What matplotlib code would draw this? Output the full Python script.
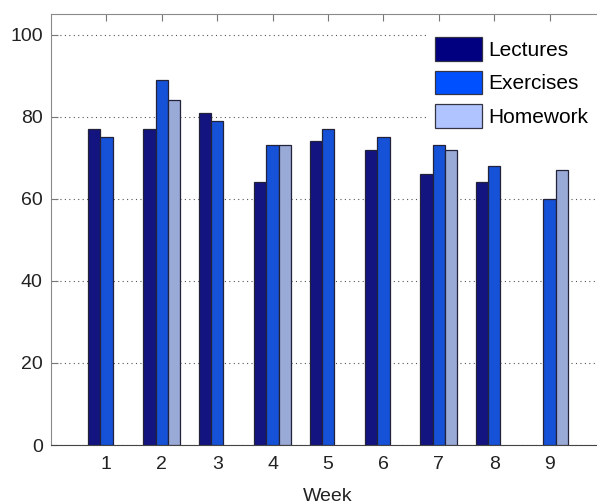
import matplotlib
matplotlib.use("Agg")
import matplotlib.pyplot as plt
import numpy as np
from matplotlib.patches import Patch

weeks = [1, 2, 3, 4, 5, 6, 7, 8, 9]
lectures = [77, 77, 81, 64, 74, 72, 66, 64, np.nan]
exercises = [75, 89, 79, 73, 77, 75, 73, 68, 60]
homework = [np.nan, 84, np.nan, 73, np.nan, np.nan, 72, np.nan, 67]
series_names = ["Lectures", "Exercises", "Homework"]

bar_colors = ["#141480", "#1552d8", "#9aaad6"]
legend_colors = ["#000080", "#0050ff", "#b0c4ff"]

plt.rcParams['font.family'] = ['Liberation Sans', 'DejaVu Sans']

fig = plt.figure(figsize=(5.97, 5.04), dpi=100)
ax = fig.add_axes([0.0854, 0.117, 0.928, 0.855])

w = 0.222
x = np.array(weeks, dtype=float)
for i, vals in enumerate([lectures, exercises, homework]):
    ax.bar(x + (i - 1) * w, vals, width=w, color=bar_colors[i],
           edgecolor="#22223a", linewidth=0.9, zorder=3)

ax.set_xlim(0, 10)
ax.set_ylim(0, 105)
ax.set_xticks(weeks)
ax.set_yticks([0, 20, 40, 60, 80, 100])
ax.yaxis.grid(True, linestyle=(0, (1, 3)), color="#555555", linewidth=0.8, zorder=0)
ax.tick_params(axis='both', direction='in', length=5, labelsize=14, colors="#222222",
               top=True, right=False)
ax.tick_params(axis='x', pad=8, color="#777777")
ax.tick_params(axis='y', pad=6, color="#777777")
for s in ["left", "top"]:
    ax.spines[s].set_color("#8a8a8a")
ax.spines["bottom"].set_color("#444444")
ax.spines["right"].set_visible(False)
ax.set_xlabel("Week", fontsize=14, color="#222222", labelpad=11)

handles = [Patch(facecolor=legend_colors[i], edgecolor="#333344", linewidth=0.9)
           for i in range(3)]
leg = ax.legend(handles, series_names, loc="upper left",
                bbox_to_anchor=(0.7186, 0.938), bbox_transform=fig.transFigure,
                frameon=True, fancybox=False, edgecolor="white", facecolor="white",
                framealpha=1, fontsize=15, handlelength=2.26, handleheight=1.38,
                handletextpad=0.3, labelspacing=0.45, borderpad=0.3, borderaxespad=0)
leg.set_zorder(5)

fig.savefig("out.png", dpi=100)
